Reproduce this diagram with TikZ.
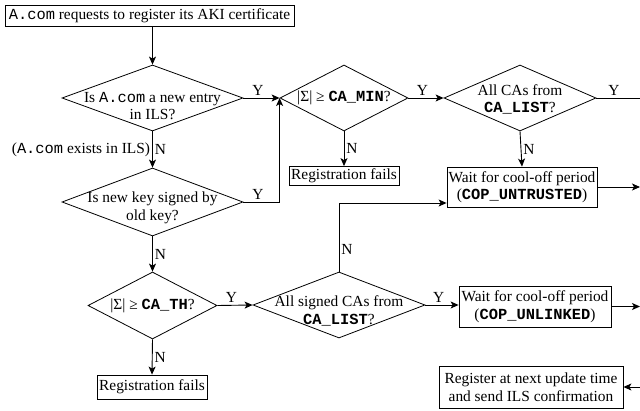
\documentclass[tikz,border=0pt]{standalone}
\usepackage{fontspec}
\setmainfont{Liberation Serif}
\setmonofont{Liberation Mono}
\usetikzlibrary{shapes.geometric,arrows.meta}

\begin{document}
\begin{tikzpicture}[x=1pt, y=-1pt,
  font=\fontsize{15.4}{17.5}\selectfont,
  stepbox/.style={draw, line width=0.8pt, inner sep=0pt, align=center},
  decision/.style={draw, diamond, line width=0.8pt, inner sep=0pt, minimum height=66},
  dtext/.style={inner sep=0pt, align=center},
  flow/.style={line width=0.9pt, -{Stealth[length=8pt,width=7pt,inset=2pt]}},
  plain/.style={line width=0.9pt},
  yn/.style={inner sep=2pt}]
\useasboundingbox (0,0) rectangle (640,411);
\clip (0,0) rectangle (640,411);

\node[stepbox, minimum width=289, minimum height=21] (request) at (149.5,16) {\texttt{A.com} requests to register its AKI certificate};

\node[decision, minimum width=181] (newentry) at (152.5,98) {};
\node[dtext] at ([yshift=-8pt]newentry) {Is \texttt{A.com} a new entry\\in ILS?};
\node[decision, minimum width=181, minimum height=68] (oldkey) at (152.5,202) {};
\node[dtext] at ([yshift=-6pt]oldkey) {Is new key signed by\\old key?};
\node[decision, minimum width=129, minimum height=67] (cath) at (152.5,305.5) {};
\node[dtext] at (cath) {|Σ| ≥ \texttt{\textbf{CA\_TH}}?};
\node[stepbox, minimum width=110, minimum height=24] (failb) at (152,387) {Registration fails};

\node[decision, minimum width=128] (camin) at (344,98) {};
\node[dtext] at (camin) {|Σ| ≥ \texttt{\textbf{CA\_MIN}}?};
\node[stepbox, minimum width=110, minimum height=19] (faila) at (344,176) {Registration fails};
\node[decision, minimum width=172] (signed) at (339,305) {};
\node[dtext] at ([yshift=-6pt]signed) {All signed CAs from\\\texttt{\textbf{CA\_LIST}}?};

\node[decision, minimum width=152] (calist) at (520,98) {};
\node[dtext] at ([yshift=-1.5pt]calist) {All CAs from\\\texttt{\textbf{CA\_LIST}}?};
\node[stepbox, minimum width=150, minimum height=40] (untrusted) at (522,187) {Wait for cool-off period\\(\texttt{\textbf{COP\_UNTRUSTED}})};
\node[stepbox, minimum width=152, minimum height=41] (unlinked) at (535,306.5) {Wait for cool-off period\\(\texttt{\textbf{COP\_UNLINKED}})};
\node[stepbox, minimum width=184, minimum height=42] (register) at (531,387) {Register at next update time\\and send ILS confirmation};

\coordinate (outY) at (640,98);
\coordinate (outU) at (640,187);
\coordinate (outL) at (640,306.5);
\coordinate (inR) at (640,387);

\draw[flow] (newentry.north |- request.south) -- (newentry.north);
\draw[flow] (newentry.east) -- (camin.west) node[yn, pos=0.4, above] {Y};
\draw[flow] (newentry.south) -- (oldkey.north)
  node[yn, midway, right] {N}
  node[yn, midway, left] {(\texttt{A.com} exists in ILS)};
\draw[flow] (oldkey.east) -| (camin.west) node[yn, pos=0.2, above] {Y};
\draw[flow] (oldkey.south) -- (cath.north) node[yn, midway, right] {N};
\draw[flow] (cath.east) -- (signed.west) node[yn, pos=0.4, above] {Y};
\draw[flow] (cath.south) -- (failb.north) node[yn, midway, right] {N};

\draw[flow] (camin.south) -- (faila.north) node[yn, midway, right] {N};
\draw[flow] (camin.east) -- (calist.west) node[yn, pos=0.4, above] {Y};
\draw[plain] (calist.east) -- (outY) node[yn, pos=0.4, above] {Y};
\draw[flow] (calist.south) -- (untrusted.north) node[yn, midway, right] {N};
\draw[flow] (untrusted.east |- outU) -- (outU);

\draw[flow] (signed.north) |- ([yshift=-16pt]untrusted.west) node[yn, pos=0.16, right] {N};
\draw[flow] (signed.east) -- (unlinked.west |- signed.east) node[yn, pos=0.4, above] {Y};
\draw[flow] (unlinked.east) -- (outL);
\draw[flow] (inR) -- (register.east);

\end{tikzpicture}
\end{document}
